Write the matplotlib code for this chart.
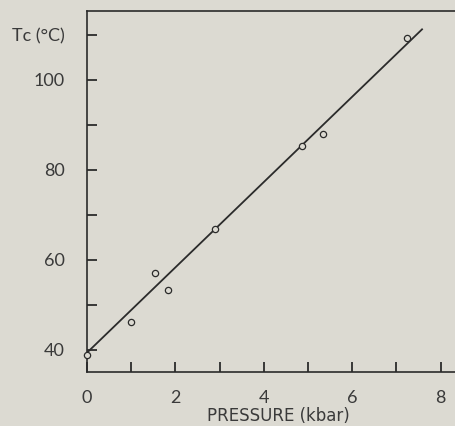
import numpy as np
import matplotlib
matplotlib.use("Agg")
import matplotlib.pyplot as plt
from matplotlib.ticker import FixedLocator, FixedFormatter

# Data
pressure_kbar = [0.0, 1.0, 1.54, 1.83, 2.90, 4.86, 5.34, 7.24]
tc_celsius = [38.9, 46.2, 57.1, 53.3, 66.9, 85.3, 88.0, 109.3]
fit_slope = 9.48
fit_intercept = 39.4
fit_range = [0.0, 7.58]

x_ticks = [0, 1, 2, 3, 4, 5, 6, 7, 8]
x_tick_labels = ["0", "", "2", "", "4", "", "6", "", "8"]
y_ticks = [40, 50, 60, 70, 80, 90, 100, 110]
y_tick_labels = ["40", "", "60", "", "80", "", "100", "Tc (°C)"]
x_label = "PRESSURE (kbar)"

paper = "#dcdad2"
ink = "#2b2b2b"
text_col = "#3a3a3a"

plt.rcParams['font.family'] = ['Lato', 'DejaVu Sans']

fig = plt.figure(figsize=(4.56, 4.26), dpi=100, facecolor=paper)
ax = fig.add_axes([87/456, 1 - 372/426, 1 - 87/456, (372 - 11)/426])
ax.set_facecolor(paper)

xf = np.linspace(fit_range[0], fit_range[1], 2)
ax.plot(xf, np.polyval([fit_slope, fit_intercept], xf), color=ink, lw=1.3, zorder=2)
ax.plot(pressure_kbar, tc_celsius, linestyle='none', marker='o', ms=4.5,
        mfc=paper, mec=ink, mew=0.9, zorder=3, clip_on=False)

ax.set_xlim(0, (456 - 87) / 44.2)
ax.set_ylim(40 - 22/4.5, 40 + 339/4.5)

ax.xaxis.set_major_locator(FixedLocator(x_ticks))
ax.xaxis.set_major_formatter(FixedFormatter(x_tick_labels))
ax.yaxis.set_major_locator(FixedLocator(y_ticks))
ax.yaxis.set_major_formatter(FixedFormatter(y_tick_labels))

ax.tick_params(axis='both', direction='in', length=7, width=1.3, color=ink,
               labelsize=13, labelcolor=text_col)
ax.tick_params(axis='x', pad=13)
ax.tick_params(axis='y', pad=16)

for s in ['left', 'bottom', 'top']:
    ax.spines[s].set_color(ink)
    ax.spines[s].set_linewidth(1.2)
ax.spines['right'].set_visible(False)

ax.set_xlabel(x_label, fontsize=12, color=text_col, family=['DejaVu Sans'])
ax.xaxis.set_label_coords((278 - 87) / (456 - 87), -0.098)

fig.savefig("out.png", dpi=100, facecolor=paper)
